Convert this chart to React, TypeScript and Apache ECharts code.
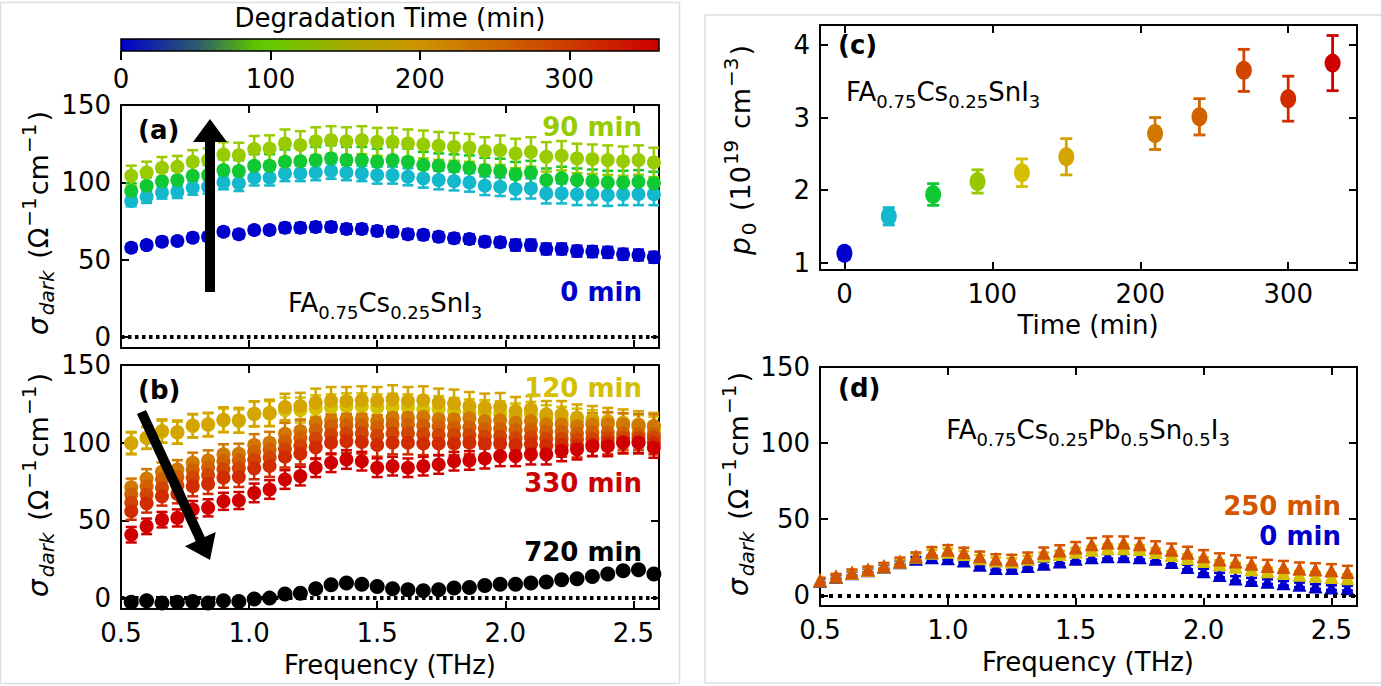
import React, { useEffect, useRef } from 'react';
import * as echarts from 'echarts';

const FONT = 'DejaVu Sans';

// ---------- tick values ----------
const FREQ_TICKS = [0.5, 1.0, 1.5, 2.0, 2.5];
const SIG_TICKS = [0, 50, 100, 150];
const TIME_TICKS = [0, 100, 200, 300];
const P_TICKS = [1, 2, 3, 4];
const CBAR_TICKS = [0, 100, 200, 300];

// ---------- panels (a),(b): frequencies (THz) ----------
const FREQ_AB = [0.54, 0.60, 0.66, 0.72, 0.78, 0.84, 0.90, 0.96, 1.02, 1.08, 1.14, 1.20, 1.26, 1.32, 1.38, 1.44, 1.50, 1.56, 1.62, 1.68, 1.74, 1.80, 1.86, 1.92, 1.98, 2.04, 2.10, 2.16, 2.22, 2.28, 2.34, 2.40, 2.46, 2.52, 2.58];

// panel (a)
const A0 = [57.8, 59.5, 61.7, 62.1, 64.3, 64.9, 68.1, 66.5, 69.2, 69.2, 70.7, 70.7, 71.2, 71.2, 69.9, 69.9, 68.6, 68.1, 66.5, 66.1, 64.9, 63.9, 63.4, 61.7, 61.3, 59.5, 59.5, 57.0, 57.0, 55.6, 55.3, 54.8, 53.6, 53.1, 51.6];
const A30 = [88.0, 90.7, 93.5, 93.9, 96.5, 97.2, 100.0, 99.4, 103.0, 103.0, 105.8, 105.8, 106.4, 107.3, 106.4, 105.8, 104.7, 104.7, 103.6, 102.6, 101.5, 100.8, 100.0, 97.8, 97.2, 95.7, 96.1, 92.9, 92.9, 92.3, 92.3, 91.8, 92.3, 92.3, 92.3];
const A60 = [94.4, 97.8, 100.8, 101.5, 104.3, 104.7, 107.9, 107.3, 110.7, 110.7, 113.3, 113.7, 114.4, 115.5, 114.4, 114.4, 113.3, 114.4, 113.3, 111.2, 110.7, 110.1, 109.4, 107.9, 107.3, 105.2, 106.4, 101.5, 102.6, 101.5, 100.8, 100.0, 100.0, 100.4, 99.4];
const A90 = [104.3, 106.4, 109.4, 110.1, 113.3, 114.4, 118.0, 117.6, 121.5, 121.9, 125.2, 124.1, 126.6, 127.3, 126.6, 127.3, 126.2, 126.2, 125.2, 124.5, 123.6, 123.0, 122.3, 120.2, 120.8, 118.7, 119.7, 116.5, 117.2, 115.5, 115.0, 114.4, 113.7, 114.4, 112.9];
const E_A0 = [2.5, 2.5, 2.5, 2.5, 2.5, 2.5, 2.5, 2.5, 2.5, 2.5, 3.0, 3.0, 3.0, 3.0, 3.0, 3.0, 3.0, 3.0, 3.0, 3.0, 3.0, 3.0, 3.0, 3.0, 3.0, 3.5, 3.5, 3.5, 3.5, 3.5, 3.5, 3.5, 3.5, 3.5, 3.5];
const E_A30 = [3.5, 4.0, 4.0, 4.0, 4.5, 4.5, 4.5, 5.0, 5.0, 5.0, 5.0, 5.0, 5.0, 5.0, 5.0, 5.0, 5.5, 5.5, 5.5, 6.0, 6.0, 6.0, 6.0, 6.0, 6.0, 6.5, 6.5, 6.5, 6.5, 7.0, 7.0, 7.0, 7.0, 7.0, 7.0];
const E_A60 = [5.0, 5.5, 6.0, 6.0, 6.5, 6.5, 7.0, 7.0, 7.5, 7.5, 8.0, 8.0, 8.5, 8.5, 8.5, 8.5, 8.5, 8.5, 8.5, 8.5, 8.0, 8.0, 8.0, 8.0, 8.0, 8.0, 7.5, 7.5, 7.5, 7.5, 7.5, 7.5, 7.5, 7.5, 7.5];
const E_A90 = [6.5, 7.0, 7.0, 7.0, 7.5, 7.5, 8.0, 8.0, 8.5, 8.5, 9.0, 9.0, 9.0, 9.0, 9.0, 9.0, 9.0, 9.0, 9.0, 9.0, 9.0, 9.0, 9.0, 9.0, 9.5, 9.5, 9.5, 9.5, 9.5, 9.5, 9.5, 9.5, 9.5, 9.5, 9.5];

// panel (b)
const B120 = [100.0, 103.2, 107.1, 106.5, 110.7, 111.4, 114.4, 113.9, 118.3, 118.7, 121.0, 121.0, 122.0, 122.6, 123.3, 123.3, 122.6, 123.0, 122.6, 121.5, 121.5, 120.4, 119.4, 119.4, 118.7, 117.2, 118.3, 116.1, 115.1, 113.9, 112.9, 111.8, 110.7, 109.7, 108.6];
const B150 = [99.5, 103.0, 107.5, 106.8, 111.0, 111.8, 114.8, 114.4, 118.7, 119.2, 123.0, 123.6, 125.8, 126.8, 126.8, 127.3, 126.8, 128.0, 126.8, 127.3, 125.8, 125.2, 123.6, 122.6, 123.0, 120.4, 121.5, 118.3, 118.3, 116.1, 115.1, 113.9, 112.9, 111.8, 110.7];
const B210 = [71.4, 77.0, 81.3, 82.8, 87.1, 88.6, 92.5, 92.9, 98.5, 100.0, 105.8, 107.5, 112.9, 114.4, 115.1, 115.1, 113.9, 116.0, 116.1, 116.6, 115.1, 115.1, 115.8, 113.9, 114.4, 112.9, 113.9, 111.8, 111.8, 110.7, 111.5, 112.0, 111.5, 111.0, 110.7];
const B240 = [66.6, 72.0, 76.5, 78.0, 82.5, 84.0, 88.0, 88.5, 94.0, 95.5, 101.0, 103.0, 108.0, 110.7, 111.0, 111.0, 110.0, 111.5, 111.5, 111.0, 110.5, 110.0, 110.0, 109.0, 109.0, 108.0, 108.5, 107.0, 107.0, 106.0, 106.5, 106.5, 106.0, 105.5, 105.4];
const B270 = [61.3, 66.5, 71.0, 72.5, 77.5, 79.0, 83.0, 83.5, 89.0, 90.5, 96.0, 98.0, 102.5, 105.4, 106.0, 106.0, 104.5, 106.0, 106.0, 105.5, 105.0, 105.0, 105.0, 104.0, 104.0, 103.0, 103.5, 102.5, 102.5, 102.0, 102.5, 103.0, 103.0, 103.0, 103.2];
const B300 = [55.9, 61.0, 65.5, 67.0, 72.0, 73.5, 77.5, 78.0, 83.5, 85.0, 91.0, 93.0, 97.0, 100.0, 101.0, 100.5, 98.5, 100.0, 100.0, 99.5, 99.5, 99.5, 100.0, 99.5, 99.5, 98.5, 99.0, 98.0, 98.5, 98.0, 99.0, 100.0, 100.5, 100.5, 100.0];
const B330 = [40.8, 46.2, 50.5, 51.6, 57.0, 58.1, 62.3, 62.8, 67.7, 69.9, 76.3, 78.5, 83.9, 87.1, 89.2, 88.1, 83.9, 84.9, 83.9, 84.9, 86.0, 88.1, 88.6, 89.9, 91.4, 91.4, 92.5, 92.5, 94.6, 95.7, 97.8, 97.8, 100.0, 100.0, 96.8];
const B720 = [-2.6, -1.7, -3.2, -2.6, -2.2, -3.2, -1.7, -2.2, -0.5, 0.0, 2.6, 3.2, 6.0, 8.6, 9.7, 9.0, 7.5, 6.0, 5.4, 4.7, 5.4, 6.5, 6.9, 8.1, 9.0, 9.0, 9.7, 10.3, 11.8, 12.5, 13.9, 15.5, 17.6, 18.3, 15.5];
const E_B120 = [7.0, 7.0, 7.0, 7.0, 7.5, 7.5, 7.5, 7.5, 8.0, 8.0, 8.0, 8.0, 8.5, 8.5, 8.5, 8.5, 8.5, 8.5, 8.5, 8.5, 8.5, 8.5, 8.5, 8.0, 8.0, 8.0, 8.0, 8.0, 8.0, 8.0, 8.0, 8.0, 8.0, 8.0, 8.0];
const E_B150 = [7.0, 7.0, 7.5, 7.5, 7.5, 7.5, 8.0, 8.0, 8.0, 8.5, 8.5, 8.5, 9.0, 9.0, 9.0, 9.0, 9.0, 9.0, 9.0, 9.0, 9.0, 9.0, 9.0, 9.0, 9.0, 9.0, 8.5, 8.5, 8.5, 8.5, 8.5, 8.5, 8.5, 8.5, 8.5];
const E_BOR = [5.5, 6.0, 6.0, 6.0, 6.5, 6.5, 6.5, 6.5, 7.0, 7.0, 7.0, 7.0, 7.5, 7.5, 7.5, 7.5, 7.5, 7.5, 7.5, 7.5, 7.5, 7.5, 7.5, 7.5, 7.5, 7.5, 7.5, 7.5, 7.5, 7.5, 7.5, 7.5, 7.5, 7.5, 7.5];
const E_B330 = [5.0, 5.0, 5.0, 5.5, 5.5, 5.5, 5.5, 5.5, 6.0, 6.0, 6.0, 6.0, 6.0, 6.0, 6.0, 6.0, 6.0, 6.0, 6.0, 6.0, 6.0, 6.0, 6.0, 6.5, 6.5, 6.5, 6.5, 6.5, 6.5, 6.5, 6.5, 6.5, 6.5, 6.5, 6.5];

// ---------- panel (c) ----------
const TIMES_C = [0, 30, 60, 90, 120, 150, 210, 240, 270, 300, 330];
const P0 = [1.13, 1.64, 1.94, 2.12, 2.24, 2.46, 2.78, 3.01, 3.65, 3.26, 3.75];
const P0_ERR = [0.08, 0.12, 0.15, 0.16, 0.19, 0.25, 0.22, 0.25, 0.29, 0.31, 0.38];
const C_COLORS = ['#0000cc', '#14b8cc', '#10c832', '#96c800', '#d4c000', '#d4a400', '#d07800', '#d06000', '#d04600', '#d02c00', '#d00000'];

// ---------- panel (d) ----------
const FREQ_D = [0.5, 0.5625, 0.625, 0.6875, 0.75, 0.8125, 0.875, 0.9375, 1.0, 1.0625, 1.125, 1.1875, 1.25, 1.3125, 1.375, 1.4375, 1.5, 1.5625, 1.625, 1.6875, 1.75, 1.8125, 1.875, 1.9375, 2.0, 2.0625, 2.125, 2.1875, 2.25, 2.3125, 2.375, 2.4375, 2.5, 2.5625];
const D0 = [9.5, 12.0, 14.5, 16.5, 18.8, 21.8, 24.0, 25.0, 24.4, 22.9, 20.1, 18.0, 18.0, 19.3, 20.8, 22.3, 24.0, 25.1, 25.7, 25.7, 25.1, 24.0, 21.9, 18.6, 15.9, 13.3, 11.1, 10.0, 9.0, 7.9, 6.9, 5.8, 5.1, 4.7];
const D120 = [9.8, 12.3, 14.7, 16.7, 19.0, 22.0, 25.3, 28.0, 28.7, 27.2, 24.4, 22.9, 22.3, 24.0, 26.1, 27.2, 28.7, 30.0, 30.9, 30.9, 30.4, 28.5, 26.5, 24.5, 22.5, 20.5, 18.8, 17.2, 15.8, 14.6, 13.6, 12.8, 12.0, 11.3];
const D250 = [10.1, 12.6, 15.0, 16.9, 19.3, 22.3, 25.7, 28.7, 30.0, 28.3, 25.7, 24.0, 23.6, 25.1, 27.9, 29.4, 31.5, 33.6, 34.7, 34.7, 33.6, 31.5, 30.0, 27.9, 25.7, 23.6, 22.3, 20.8, 19.3, 18.6, 17.6, 17.1, 16.5, 15.4];
const E_D0 = [1.2, 1.2, 1.2, 1.2, 1.2, 1.2, 1.2, 1.2, 1.2, 1.2, 1.2, 1.2, 1.2, 1.2, 1.2, 1.2, 1.5, 1.5, 1.5, 1.5, 1.5, 1.5, 1.5, 1.5, 1.5, 1.5, 1.5, 1.5, 1.5, 1.5, 1.5, 1.5, 1.5, 1.5];
const E_D120 = [1.5, 1.5, 1.5, 1.5, 1.5, 1.5, 2.0, 2.0, 2.0, 2.0, 2.0, 2.0, 2.0, 2.0, 2.0, 2.0, 2.5, 2.5, 2.5, 2.5, 2.5, 2.5, 2.5, 2.5, 2.5, 2.5, 2.5, 2.5, 2.5, 2.5, 2.5, 2.5, 2.5, 2.5];
const E_D250 = [1.5, 1.5, 2.0, 2.0, 2.0, 2.5, 2.5, 3.0, 3.0, 3.0, 3.0, 3.0, 3.0, 3.0, 3.5, 3.5, 3.5, 4.0, 4.0, 4.0, 4.0, 4.0, 4.0, 4.0, 4.0, 4.0, 4.0, 4.0, 4.0, 4.0, 4.0, 4.0, 4.0, 4.0];

// ---------- colours ----------
const COL = {
  t0: '#0000cc', t30: '#14b8cc', t60: '#10c832', t90: '#99cc00',
  t120: '#d4c000', t150: '#d4a400', t210: '#d07800', t240: '#d06000',
  t270: '#d04600', t300: '#d02c00', t330: '#d00000', t720: '#000000', t250: '#d45500',
};

const errRender = (capW: number, lw: number) => (params: any, api: any) => {
  const x = api.value(0);
  const y = api.value(1);
  const e = api.value(2);
  const lo = api.coord([x, y - e]);
  const hi = api.coord([x, y + e]);
  const stroke = api.visual('color');
  const style = { stroke, lineWidth: lw, fill: null };
  return {
    type: 'group',
    children: [
      { type: 'line', shape: { x1: lo[0], y1: lo[1], x2: hi[0], y2: hi[1] }, style },
      { type: 'line', shape: { x1: lo[0] - capW / 2, y1: lo[1], x2: lo[0] + capW / 2, y2: lo[1] }, style },
      { type: 'line', shape: { x1: hi[0] - capW / 2, y1: hi[1], x2: hi[0] + capW / 2, y2: hi[1] }, style },
    ],
  };
};

function errSeries(ax: number, xs: number[], ys: number[], es: number[], color: string, capW = 11, lw = 2.5) {
  return {
    type: 'custom', xAxisIndex: ax, yAxisIndex: ax, clip: true, silent: true,
    itemStyle: { color },
    encode: { x: 0, y: 1 },
    renderItem: errRender(capW, lw),
    data: xs.map((x, i) => [x, ys[i], es[i]]),
  };
}

function markSeries(ax: number, xs: number[], ys: number[], color: string, symbol = 'circle', size: any = 14, extra: any = {}) {
  return {
    type: 'scatter', xAxisIndex: ax, yAxisIndex: ax, silent: true, clip: true,
    symbol, symbolSize: size,
    itemStyle: { color, opacity: 1 },
    emphasis: { disabled: true },
    data: xs.map((x, i) => [x, ys[i]]),
    ...extra,
  };
}

const zeroLine = (dash: number[]) => ({
  markLine: {
    silent: true, symbol: ['none', 'none'], label: { show: false },
    lineStyle: { type: dash, width: 4, color: '#000', cap: 'butt' },
    emphasis: { disabled: true },
    data: [{ yAxis: 0 }],
  },
});

const AX_LINE = { show: true, onZero: false, lineStyle: { color: '#000', width: 2 } };
const TICK_STYLE = { color: '#000', width: 2 };
const fixed1 = (v: number) => v.toFixed(1);
const intFmt = (v: number) => String(v);

function xAx(gridIndex: number, min: number, max: number, ticks: number[], showLabel: boolean, position: string, fmt: any = intFmt) {
  return {
    type: 'value', gridIndex, min, max, position,
    axisLine: AX_LINE,
    axisTick: { show: true, inside: true, length: 8, customValues: ticks, lineStyle: TICK_STYLE },
    axisLabel: { show: showLabel, customValues: ticks, margin: 11, color: '#000', fontSize: 26, fontFamily: FONT, formatter: fmt },
    splitLine: { show: false },
  };
}
function yAx(gridIndex: number, min: number, max: number, ticks: number[], showLabel: boolean, position: string, fmt: any = intFmt) {
  return {
    type: 'value', gridIndex, min, max, position,
    axisLine: AX_LINE,
    axisTick: { show: true, inside: true, length: 8, customValues: ticks, lineStyle: TICK_STYLE },
    axisLabel: { show: showLabel, customValues: ticks, margin: 10, color: '#000', fontSize: 26, fontFamily: FONT, formatter: fmt },
    splitLine: { show: false },
  };
}

const RICH: any = {
  m: { fontSize: 26, fontFamily: FONT, lineHeight: 36, fill: '#000', color: '#000' },
  it: { fontSize: 26, fontFamily: FONT, fontStyle: 'italic', lineHeight: 36, fill: '#000', color: '#000' },
  s: { fontSize: 18, fontFamily: FONT, lineHeight: 20, verticalAlign: 'bottom', fill: '#000', color: '#000' },
  sit: { fontSize: 18, fontFamily: FONT, fontStyle: 'italic', lineHeight: 20, verticalAlign: 'bottom', fill: '#000', color: '#000' },
  sup: { fontSize: 18, fontFamily: FONT, lineHeight: 20, verticalAlign: 'top', fill: '#000', color: '#000' },
};

// larger variant for the axis titles (mathtext spacing is wider)
const RICH_Y: any = {
  m: { fontSize: 27, fontFamily: FONT, lineHeight: 38, fill: '#000', color: '#000' },
  it: { fontSize: 28, fontFamily: FONT, fontStyle: 'italic', lineHeight: 38, fill: '#000', color: '#000', padding: [0, 1, 0, 0] },
  sit: { fontSize: 20, fontFamily: FONT, fontStyle: 'italic', lineHeight: 22, verticalAlign: 'bottom', fill: '#000', color: '#000', padding: [0, 3, 0, 1] },
  s: { fontSize: 20, fontFamily: FONT, lineHeight: 22, verticalAlign: 'bottom', fill: '#000', color: '#000', padding: [0, 3, 0, 1] },
  sup: { fontSize: 20, fontFamily: FONT, lineHeight: 22, verticalAlign: 'top', fill: '#000', color: '#000', padding: [0, 2, 0, 1] },
};

function txt(x: number, y: number, text: string, o: any = {}) {
  return {
    type: 'text', x, y, z: 100, rotation: o.rot || 0, silent: true,
    style: {
      text, fill: o.fill || '#000', fontSize: o.size || 26, fontFamily: FONT,
      fontWeight: o.bold ? 'bold' : 'normal',
      align: o.align || 'left', textAlign: o.align || 'left',
      verticalAlign: 'middle', textVerticalAlign: 'middle',
      rich: o.rich,
    },
  };
}

const SIGMA_LABEL = '{it|σ}{sit|dark}{m| (Ω}{sup|−1}{m|cm}{sup|−1}{m|)}';
const P0_LABEL = '{it|p}{s|0}{m| (10}{sup|19}{m| cm}{sup|−3}{m|)}';
const FA_SN = '{m|FA}{s|0.75}{m|Cs}{s|0.25}{m|SnI}{s|3}';
const FA_PBSN = '{m|FA}{s|0.75}{m|Cs}{s|0.25}{m|Pb}{s|0.5}{m|Sn}{s|0.5}{m|I}{s|3}';

function buildOption() {
  const series: any[] = [];
  // panel (a)
  series.push(errSeries(0, FREQ_AB, A0, E_A0, COL.t0));
  series.push(markSeries(0, FREQ_AB, A0, COL.t0, 'circle', 14, zeroLine([3.5, 3.5])));
  series.push(errSeries(0, FREQ_AB, A30, E_A30, COL.t30));
  series.push(markSeries(0, FREQ_AB, A30, COL.t30));
  series.push(errSeries(0, FREQ_AB, A60, E_A60, COL.t60));
  series.push(markSeries(0, FREQ_AB, A60, COL.t60));
  series.push(errSeries(0, FREQ_AB, A90, E_A90, COL.t90));
  series.push(markSeries(0, FREQ_AB, A90, COL.t90));
  // panel (b)
  const bSets: [number[], number[], string][] = [
    [B120, E_B120, COL.t120], [B150, E_B150, COL.t150], [B210, E_BOR, COL.t210],
    [B240, E_BOR, COL.t240], [B270, E_BOR, COL.t270], [B300, E_BOR, COL.t300], [B330, E_B330, COL.t330],
  ];
  bSets.forEach(([ys, es, c], i) => {
    series.push(errSeries(2, FREQ_AB, ys, es, c));
    series.push(markSeries(2, FREQ_AB, ys, c, 'circle', 14, i === 0 ? zeroLine([3.5, 3.5]) : {}));
  });
  series.push(markSeries(2, FREQ_AB, B720, COL.t720, 'circle', 15));
  // panel (c)
  series.push({
    type: 'custom', xAxisIndex: 4, yAxisIndex: 4, clip: true, silent: true,
    encode: { x: 0, y: 1 }, renderItem: errRender(12, 2.8),
    data: TIMES_C.map((t, i) => ({ value: [t, P0[i], P0_ERR[i]], itemStyle: { color: C_COLORS[i] } })),
  });
  series.push({
    type: 'scatter', xAxisIndex: 4, yAxisIndex: 4, silent: true, symbol: 'circle', symbolSize: [16, 19],
    emphasis: { disabled: true },
    data: TIMES_C.map((t, i) => ({ value: [t, P0[i]], itemStyle: { color: C_COLORS[i], opacity: 1 } })),
  });
  // panel (d)
  series.push(errSeries(6, FREQ_D, D0, E_D0, COL.t0));
  series.push(markSeries(6, FREQ_D, D0, COL.t0, 'triangle', 14, zeroLine([4, 5])));
  series.push(errSeries(6, FREQ_D, D120, E_D120, COL.t120));
  series.push(markSeries(6, FREQ_D, D120, COL.t120, 'triangle', 14));
  series.push(errSeries(6, FREQ_D, D250, E_D250, COL.t250));
  series.push(markSeries(6, FREQ_D, D250, COL.t250, 'triangle', 14));

  const arrowA = [[205, 292], [215, 292], [215, 142], [227, 142], [210, 119], [193, 142], [205, 142]];
  const arrowB = [[137.0, 414.1], [146.0, 409.9], [204.8, 537.0], [215.7, 532.0], [210, 560], [184.9, 546.3], [195.8, 541.3]];

  const graphics: any[] = [
    { type: 'rect', z: -10, silent: true, shape: { x: 0.5, y: 2.5, width: 679, height: 681 }, style: { fill: 'none', stroke: '#dedede', lineWidth: 1.5 } },
    { type: 'rect', z: -10, silent: true, shape: { x: 705, y: 15, width: 680, height: 668 }, style: { fill: 'none', stroke: '#dedede', lineWidth: 1.5 } },
    {
      type: 'rect', z: 50, silent: true, shape: { x: 121, y: 39, width: 538, height: 12 },
      style: {
        stroke: '#000', lineWidth: 1.5,
        fill: {
          type: 'linear', x: 0, y: 0, x2: 1, y2: 0,
          colorStops: [
            { offset: 0, color: '#0000cc' }, { offset: 0.14, color: '#2d5a6e' }, { offset: 0.25, color: '#5ec400' },
            { offset: 0.28, color: '#66cc00' }, { offset: 0.42, color: '#a8aa00' }, { offset: 0.55, color: '#cc9600' },
            { offset: 0.69, color: '#cc6a00' }, { offset: 0.83, color: '#cc3c00' }, { offset: 1, color: '#cc0000' },
          ],
        },
      },
    },
    txt(390, 18, 'Degradation Time (min)', { align: 'center' }),
    txt(138, 130, '(a)', { bold: true }),
    txt(138, 390, '(b)', { bold: true }),
    txt(838, 45, '(c)', { bold: true }),
    txt(838, 388, '(d)', { bold: true }),
    txt(642, 127, '90 min', { bold: true, align: 'right', fill: COL.t90 }),
    txt(642, 292, '0 min', { bold: true, align: 'right', fill: COL.t0 }),
    txt(642, 388, '120 min', { bold: true, align: 'right', fill: COL.t120 }),
    txt(642, 483, '330 min', { bold: true, align: 'right', fill: '#cc0000' }),
    txt(642, 552, '720 min', { bold: true, align: 'right', fill: '#000' }),
    txt(1341, 506, '250 min', { bold: true, align: 'right', fill: COL.t250 }),
    txt(1341, 536, '0 min', { bold: true, align: 'right', fill: COL.t0 }),
    txt(288, 303, FA_SN, { rich: RICH }),
    txt(846, 92, FA_SN, { rich: RICH }),
    txt(1088, 430, FA_PBSN, { rich: RICH, align: 'center' }),
    txt(38, 223, SIGMA_LABEL, { rich: RICH_Y, align: 'center', rot: Math.PI / 2 }),
    txt(38, 485, SIGMA_LABEL, { rich: RICH_Y, align: 'center', rot: Math.PI / 2 }),
    txt(738, 484, SIGMA_LABEL, { rich: RICH_Y, align: 'center', rot: Math.PI / 2 }),
    txt(740, 150, P0_LABEL, { rich: RICH_Y, align: 'center', rot: Math.PI / 2 }),
    txt(390, 665, 'Frequency (THz)', { align: 'center' }),
    txt(1088, 662, 'Frequency (THz)', { align: 'center' }),
    txt(1088, 325, 'Time (min)', { align: 'center' }),
    { type: 'polygon', z: 100, silent: true, shape: { points: arrowA }, style: { fill: '#000' } },
    { type: 'polygon', z: 100, silent: true, shape: { points: arrowB }, style: { fill: '#000' } },
  ];

  return {
    animation: false,
    backgroundColor: '#ffffff',
    grid: [
      { left: 121, top: 105, width: 538, height: 243, containLabel: false, outerBoundsMode: 'none' },
      { left: 121, top: 365, width: 538, height: 244, containLabel: false, outerBoundsMode: 'none' },
      { left: 820, top: 25, width: 537, height: 245, containLabel: false, outerBoundsMode: 'none' },
      { left: 820, top: 367, width: 537, height: 239, containLabel: false, outerBoundsMode: 'none' },
      { left: 121, top: 39, width: 538, height: 12, containLabel: false, outerBoundsMode: 'none' },
    ],
    xAxis: [
      xAx(0, 0.5, 2.6, FREQ_TICKS, false, 'bottom'),
      xAx(0, 0.5, 2.6, FREQ_TICKS, false, 'top'),
      xAx(1, 0.5, 2.6, FREQ_TICKS, true, 'bottom', fixed1),
      xAx(1, 0.5, 2.6, FREQ_TICKS, false, 'top'),
      xAx(2, -16.5, 346.5, TIME_TICKS, true, 'bottom'),
      xAx(2, -16.5, 346.5, TIME_TICKS, false, 'top'),
      xAx(3, 0.5, 2.6, FREQ_TICKS, true, 'bottom', fixed1),
      xAx(3, 0.5, 2.6, FREQ_TICKS, false, 'top'),
      {
        type: 'value', gridIndex: 4, min: 0, max: 360, position: 'bottom',
        axisLine: { show: false, onZero: false },
        axisTick: { show: true, inside: false, length: 9, customValues: CBAR_TICKS, lineStyle: TICK_STYLE },
        axisLabel: { show: true, customValues: CBAR_TICKS, margin: 15, color: '#000', fontSize: 26, fontFamily: FONT, formatter: intFmt },
        splitLine: { show: false },
      },
    ],
    yAxis: [
      yAx(0, -7, 150, SIG_TICKS, true, 'left'),
      yAx(0, -7, 150, SIG_TICKS, false, 'right'),
      yAx(1, -7, 150, SIG_TICKS, true, 'left'),
      yAx(1, -7, 150, SIG_TICKS, false, 'right'),
      yAx(2, 0.9, 4.275, P_TICKS, true, 'left'),
      yAx(2, 0.9, 4.275, P_TICKS, false, 'right'),
      yAx(3, -7, 150, SIG_TICKS, true, 'left'),
      yAx(3, -7, 150, SIG_TICKS, false, 'right'),
      { type: 'value', gridIndex: 4, min: 0, max: 1, show: false },
    ],
    series,
    graphic: { elements: graphics },
  };
}

export default function App() {
  const ref = useRef<HTMLDivElement>(null);
  useEffect(() => {
    const chart = echarts.init(ref.current as HTMLDivElement, null, { renderer: 'svg' });
    chart.setOption(buildOption() as any);
    return () => chart.dispose();
  }, []);
  return <div ref={ref} style={{ position: 'fixed', left: 0, top: 0, width: 1381, height: 686, background: '#fff' }} />;
}
